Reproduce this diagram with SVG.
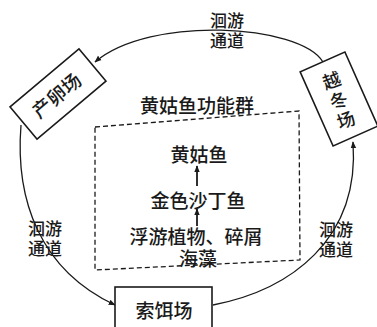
<svg xmlns="http://www.w3.org/2000/svg" width="377" height="327" viewBox="0 0 377 327">
<style>
text{font-family:"Liberation Sans","Noto Sans CJK SC","Noto Sans CJK TC",sans-serif;fill:#1a1a1a;text-anchor:middle;dominant-baseline:central;font-weight:500}
.box{fill:#fff;stroke:#1a1a1a;stroke-width:1.6}
.conn{fill:none;stroke:#1a1a1a;stroke-width:1.3}
.inner{fill:none;stroke:#1a1a1a;stroke-width:1.8}
.lab{font-size:17px}
.t{font-size:19px}
.w{font-size:18px}
</style>
<defs>
<marker id="ah" viewBox="0 0 10 10" refX="9" refY="5" markerWidth="7" markerHeight="7" markerUnits="userSpaceOnUse" orient="auto">
<path d="M0,1 L10,5 L0,9 Z" fill="#1a1a1a"/>
</marker>
</defs>
<g id="connectors">
<path class="conn" d="M323,62 C300,24 150,15 95,62" marker-end="url(#ah)"/>
<path class="conn" d="M21,125 C15,200 40,270 115,305" marker-end="url(#ah)"/>
<path class="conn" d="M213,305 C290,290 360,240 353,142" marker-end="url(#ah)"/>
<path class="inner" d="M197,186 L197,166" marker-end="url(#ah)"/>
<path class="inner" d="M197,226 L197,209" marker-end="url(#ah)"/>
</g>
<g id="label-top">
<text class="lab" x="227" y="21">洄游</text>
<text class="lab" x="227" y="41">通道</text>
</g>
<g id="label-left">
<text class="lab" x="45" y="229">洄游</text>
<text class="lab" x="45" y="249">通道</text>
</g>
<g id="label-right">
<text class="lab" x="336" y="230">洄游</text>
<text class="lab" x="336" y="250">通道</text>
</g>
<g id="spawning">
<rect class="box" x="-45" y="-21" width="90" height="42" transform="translate(58,94) rotate(-40)"/>
<text class="t" transform="translate(57,96) rotate(-40)">产卵场</text>
</g>
<g id="wintering">
<rect class="box" x="-24.5" y="-40.5" width="49" height="81" transform="translate(339,99) rotate(-24)"/>
<text class="w" transform="translate(339,101) rotate(-20)" x="0" y="-21">越<tspan x="0" dy="21">冬</tspan><tspan x="0" dy="21">场</tspan></text>
</g>
<g id="feeding">
<rect class="box" x="115" y="287" width="97" height="45"/>
<text class="t" x="164" y="311">索饵场</text>
</g>
<g id="functional-group">
<polygon points="95,127 299,111 300,260 95,270" fill="none" stroke="#1a1a1a" stroke-width="1.3" stroke-dasharray="5,3"/>
<text class="t" x="197" y="106">黄姑鱼功能群</text>
</g>
<g id="yellow-croaker">
<text class="t" x="199" y="155">黄姑鱼</text>
</g>
<g id="sardine">
<text class="t" x="198" y="201">金色沙丁鱼</text>
</g>
<g id="plankton">
<text class="t" x="196" y="237">浮游植物、碎屑</text>
<text class="t" x="198" y="259">海藻</text>
</g>
</svg>
